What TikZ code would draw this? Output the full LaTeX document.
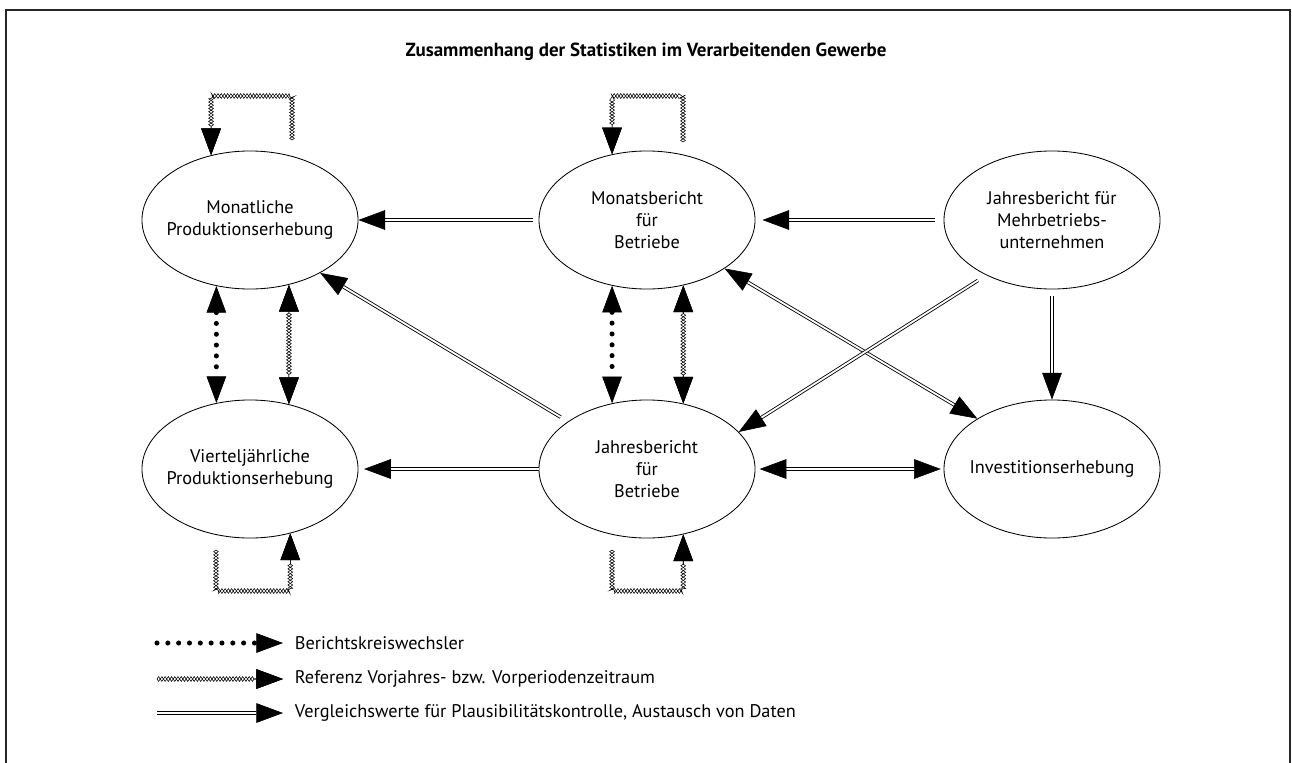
\documentclass[tikz,border=0pt]{standalone}
\usepackage{fontspec}
\setmainfont{PT Sans}
\usetikzlibrary{arrows.meta,shapes.geometric,decorations.pathmorphing}

\tikzset{
  >={Triangle[length=19pt,width=14pt,line width=0.4pt]},
  bubble/.style={draw, ellipse, minimum width=5.4cm, minimum height=3.45cm, inner sep=0pt, line width=0.6pt},
  txt/.style={align=center, font=\fontsize{13}{15.5}\selectfont},
  dbl/.style={double, double distance=1.3pt, line width=0.6pt},
  dots/.style={line width=3.6pt, line cap=round, dash pattern=on 0pt off 7.7pt},
  zz/.style={decoration={zigzag, segment length=4.6pt, amplitude=1.7pt, pre=lineto, pre length=0pt, post=lineto, post length=20pt},
    preaction={draw, line width=0.4pt, decorate},
    postaction={draw, line width=0.4pt, decorate, decoration={mirror}}},
  zzboth/.style={zz, <->, decoration={pre length=20pt}},
}

\begin{document}
\begin{tikzpicture}[x=0.025cm, y=-0.025cm]
        \useasboundingbox (0, 0) rectangle (1292, 762);
        \draw[line width=1pt, black!85] (6, 10) rectangle (1290, 800);

        \node[txt, font=\fontsize{13.5}{16}\selectfont\bfseries] (title) at (646, 52) {Zusammenhang der Statistiken im Verarbeitenden Gewerbe};

        % statistics
        \node[bubble, label={[txt]center:Monatliche\\Produktionserhebung}] (mpe) at (250, 220) {};
        \node[bubble, label={[txt]center:Monatsbericht\\für\\Betriebe}] (msb) at (647, 220) {};
        \node[bubble, label={[txt]center:Jahresbericht für\\Mehrbetriebs-\\unternehmen}] (jmu) at (1052, 220) {};
        \node[bubble, label={[txt]center:Vierteljährliche\\Produktionserhebung}] (vpe) at (250, 469) {};
        \node[bubble, label={[txt]center:Jahresbericht\\für\\Betriebe}] (jsb) at (647, 469) {};
        \node[bubble, label={[txt]center:Investitionserhebung}] (inv) at (1052, 469) {};

        % comparison values
        \draw[dbl, ->, shorten <=4.3pt] (msb.west) -- (mpe.east);
        \draw[dbl, ->, shorten <=6.4pt, shorten >=5pt] (jmu.west) -- (msb.east);
        \draw[dbl, ->, shorten >=4pt] (jsb.west) -- (vpe.east);
        \draw[dbl, <->, shorten <=3pt, shorten >=2pt] (jsb.east) -- (inv.west);
        \draw[dbl, ->, shorten <=5pt] (jmu.south) -- (inv.north);
        \draw[dbl, ->, shorten <=6pt] (jsb.149) -- (mpe.-37);
        \draw[dbl, <->] (msb.-32) -- (inv.146);
        \draw[dbl, ->, shorten <=7pt] (jmu.220) -- (jsb.22);

        % change of reporting units
        \draw[dots, <->] (mpe.243) -- (vpe.117);
        \draw[dots, <->] (msb.242) -- (jsb.118);

        % reference periods
        \path[zzboth] (mpe.301) -- (vpe.59);
        \path[zzboth] (msb.299) -- (jsb.61);

        \coordinate (mpe-lp) at (292, 140);
        \path[zz, ->] (mpe-lp) -- ++(0, -44) -| (mpe.121);
        \coordinate (msb-lp) at (683, 142);
        \path[zz, ->] (msb-lp) -- ++(0, -46) -| (msb.118);
        \coordinate (vpe-lp) at (216, 550);
        \path[zz, ->] (vpe-lp) -- ++(0, 41) -| (vpe.-58);
        \coordinate (jsb-lp) at (612, 550);
        \path[zz, ->] (jsb-lp) -- ++(0, 41) -| (jsb.-61);

        % legend
        \coordinate (lg1a) at (157, 643);
        \coordinate (lg1b) at (283, 643);
        \draw[dots, ->] (lg1a) -- (lg1b);
        \node[txt, anchor=west] (lg1t) at (290, 643) {Berichtskreiswechsler};

        \coordinate (lg2a) at (157, 679);
        \coordinate (lg2b) at (283, 679);
        \path[zz, ->] (lg2a) -- (lg2b);
        \node[txt, anchor=west] (lg2t) at (290, 679) {Referenz Vorjahres- bzw. Vorperiodenzeitraum};

        \coordinate (lg3a) at (157, 713);
        \coordinate (lg3b) at (283, 713);
        \draw[dbl, ->] (lg3a) -- (lg3b);
        \node[txt, anchor=west] (lg3t) at (290, 713) {Vergleichswerte für Plausibilitätskontrolle, Austausch von Daten};
    \end{tikzpicture}
\end{document}
